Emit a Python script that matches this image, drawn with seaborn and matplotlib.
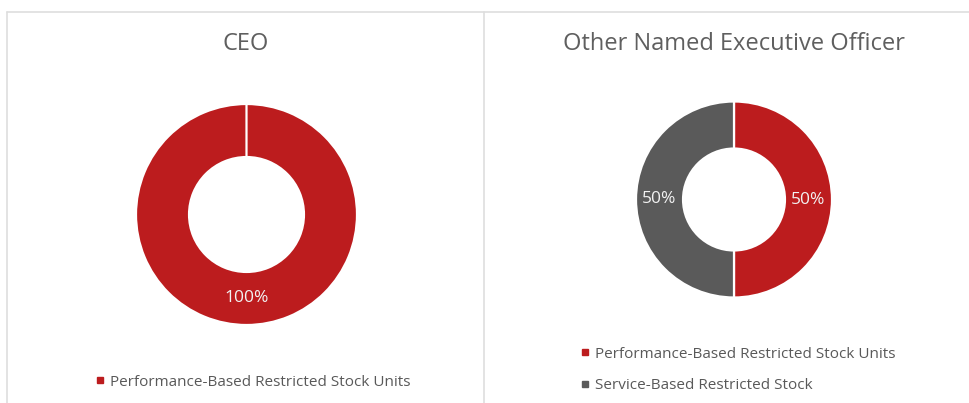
"""Donut charts of equity award mix: CEO vs other named executive officer"""

import numpy as np
import pandas as pd
import seaborn as sns
import matplotlib.pyplot as plt
from matplotlib.lines import Line2D

# data
panels = ['CEO', 'Other Named Executive Officer']
categories = ['Performance-Based Restricted Stock Units', 'Service-Based Restricted Stock']
ceo_share = [100, 0]
neo_share = [50, 50]
colors = ['#BC1C1E', '#5A5A5A']

W, H = 969, 403


def fx(x):
    return x / W


def fy(y):
    return 1 - y / H


def donut(fig, df, cx, cy, r):
    """Draw one donut centred at pixel (cx, cy) with outer radius r px."""
    ax = fig.add_axes([fx(cx - r), fy(cy + r), 2 * r / W, 2 * r / H])
    wedges, texts, autotexts = ax.pie(
        df['share'], colors=colors[:len(df)], startangle=90, counterclock=False,
        radius=1, pctdistance=0.76,
        autopct=lambda p: f'{p:.0f}%' if p > 0 else '',
        wedgeprops=dict(width=0.48, edgecolor='white', linewidth=1.6),
        textprops=dict(color='#F2F2F2', fontsize=12.5))
    ax.set_xlim(-1, 1)
    ax.set_ylim(-1, 1)
    ax.set_aspect('auto')
    ax.axis('off')
    return ax


def main():
    sns.set_theme(style='white')
    plt.rcParams['font.family'] = ['Open Sans', 'DejaVu Sans']

    fig = plt.figure(figsize=(9.69, 4.03), dpi=100)

    # panel frame
    grey = '#DEDEDE'
    fig.add_artist(Line2D([fx(7), 1], [fy(12), fy(12)], color=grey, lw=1.2))
    fig.add_artist(Line2D([fx(7), fx(7)], [fy(12), 0], color=grey, lw=1.2))
    fig.add_artist(Line2D([fx(484), fx(484)], [fy(12), 0], color=grey, lw=1.2))

    ceo_df = pd.DataFrame({'category': categories, 'share': ceo_share})
    neo_df = pd.DataFrame({'category': categories, 'share': neo_share})

    donut(fig, ceo_df, 246.5, 214.5, 110.5)
    donut(fig, neo_df, 734, 199.5, 98)

    fig.text(fx(246), fy(44), panels[0], ha='center', va='center', fontsize=17, color='#5F5F5F')
    fig.text(fx(734), fy(44), panels[1], ha='center', va='center', fontsize=17, color='#5F5F5F')

    def handles(df):
        return [Line2D([], [], marker='s', ls='', color=colors[i], markersize=5)
                for i, v in enumerate(df['share']) if v > 0]

    def labels(df):
        return [c for c, v in zip(df['category'], df['share']) if v > 0]

    leg_kw = dict(frameon=False, fontsize=11, labelcolor='#595959', handlelength=0.6,
                  handletextpad=0.4, labelspacing=1.1, borderpad=0, borderaxespad=0)
    fig.legend(handles(ceo_df), labels(ceo_df), loc='center left',
               bbox_to_anchor=(fx(95), fy(382)), **leg_kw)
    fig.legend(handles(neo_df), labels(neo_df), loc='center left',
               bbox_to_anchor=(fx(580), fy(370)), **leg_kw)

    plt.savefig('out.png', dpi=100)


if __name__ == '__main__':
    main()
